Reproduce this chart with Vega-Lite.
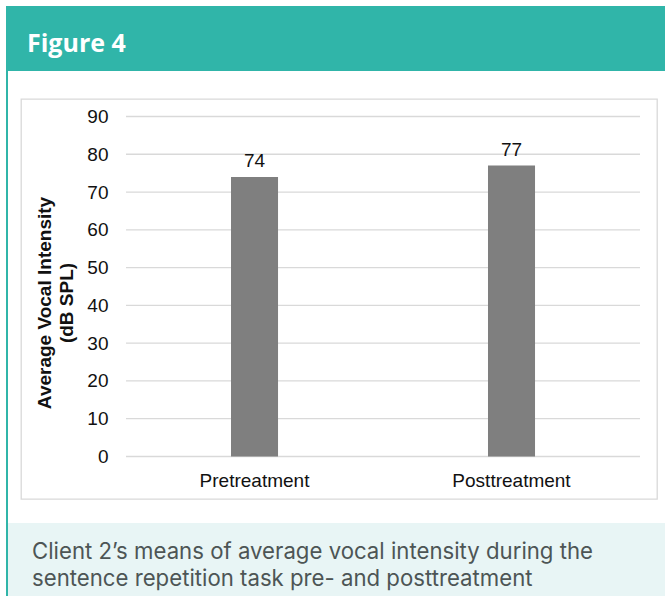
{
  "$schema": "https://vega.github.io/schema/vega-lite/v6.json",
  "background": "white",
  "padding": {"left": 6, "top": 6, "right": 0, "bottom": 0},
  "spacing": 0,
  "config": {"view": {"stroke": null}},
  "vconcat": [
    {
      "width": 659,
      "height": 65,
      "data": {"values": []},
      "mark": "rect",
      "view": {"fill": "#30B5A9", "stroke": null},
      "title": {
        "text": "Figure 4",
        "orient": "top",
        "anchor": "start",
        "frame": "group",
        "offset": -51,
        "dx": 21,
        "font": "Open Sans",
        "fontSize": 25,
        "fontWeight": 700,
        "color": "#ffffff"
      }
    },
    {
      "spacing": 0,
      "hconcat": [
        {
          "width": 2,
          "height": 525,
          "data": {"values": []},
          "mark": "rect",
          "view": {"fill": "#30B5A9", "stroke": null}
        },
        {
          "spacing": 23,
          "vconcat": [
            {
              "width": 10,
              "height": 4,
              "data": {"values": []},
              "mark": "rect",
              "view": {"stroke": null}
            },
            {
              "spacing": 0,
              "hconcat": [
                {
                  "width": 12,
                  "height": 400,
                  "data": {"values": []},
                  "mark": "rect",
                  "view": {"stroke": null}
                },
                {
                  "width": 636,
                  "height": 400,
                  "view": {"stroke": "#d9d9d9", "strokeWidth": 1.3, "fill": "#ffffff"},
                  "layer": [
                    {
                      "data": {"values": [
                        {"tick": 0}, {"tick": 10}, {"tick": 20}, {"tick": 30}, {"tick": 40},
                        {"tick": 50}, {"tick": 60}, {"tick": 70}, {"tick": 80}, {"tick": 90}
                      ]},
                      "mark": {"type": "rule", "color": "#d9d9d9", "strokeWidth": 1.3},
                      "encoding": {
                        "y": {"field": "tick", "type": "quantitative"},
                        "x": {"datum": "Pretreatment", "type": "nominal", "bandPosition": 0},
                        "x2": {"datum": "Posttreatment", "bandPosition": 1}
                      }
                    },
                    {
                      "data": {"values": [
                        {"phase": "Pretreatment", "intensity": 74},
                        {"phase": "Posttreatment", "intensity": 77}
                      ]},
                      "layer": [
                        {
                          "mark": {"type": "bar", "color": "#7f7f7f", "width": {"band": 0.183}},
                          "encoding": {
                            "x": {
                              "field": "phase",
                              "type": "nominal",
                              "sort": null,
                              "title": null,
                              "scale": {
                                "domain": ["Pretreatment", "Posttreatment"],
                                "paddingInner": 0,
                                "paddingOuter": 0.2374,
                                "align": 0.8607
                              },
                              "axis": {
                                "orient": "bottom",
                                "offset": -42.5,
                                "domain": false,
                                "ticks": false,
                                "tickSize": 0,
                                "bandPosition": 0.5,
                                "labelPadding": 30,
                                "labelAngle": 0,
                                "labelAlign": "center",
                                "labelBaseline": "alphabetic",
                                "labelFont": "Liberation Sans",
                                "labelFontSize": 19,
                                "labelColor": "#111111"
                              }
                            },
                            "y": {
                              "field": "intensity",
                              "type": "quantitative",
                              "scale": {"domain": [-11.25, 94.63], "nice": false, "zero": false},
                              "axis": {
                                "orient": "left",
                                "offset": -87,
                                "values": [0, 10, 20, 30, 40, 50, 60, 70, 80, 90],
                                "grid": false,
                                "domain": false,
                                "ticks": false,
                                "tickSize": 0,
                                "labelPadding": 0,
                                "labelFont": "Liberation Sans",
                                "labelFontSize": 19,
                                "labelColor": "#111111",
                                "title": ["Average Vocal Intensity", "(dB SPL)"],
                                "titleFont": "Liberation Sans",
                                "titleFontSize": 19,
                                "titleFontWeight": "bold",
                                "titleColor": "#111111",
                                "titleLineHeight": 22,
                                "titleBaseline": "middle",
                                "titleAlign": "center",
                                "titleAngle": -90,
                                "titleX": -64,
                                "titleY": 203.5
                              }
                            },
                            "y2": {"datum": 0}
                          }
                        },
                        {
                          "mark": {
                            "type": "text",
                            "baseline": "alphabetic",
                            "dy": -10,
                            "font": "Liberation Sans",
                            "fontSize": 19,
                            "color": "#111111"
                          },
                          "encoding": {
                            "x": {"field": "phase", "type": "nominal", "sort": null},
                            "y": {"field": "intensity", "type": "quantitative"},
                            "text": {"field": "intensity", "type": "quantitative"}
                          }
                        }
                      ]
                    }
                  ]
                }
              ]
            },
            {
              "width": 657,
              "height": 75,
              "data": {"values": []},
              "mark": "rect",
              "view": {"fill": "#E8F5F5", "stroke": null},
              "title": {
                "text": ["Client 2’s means of average vocal intensity during the", "sentence repetition task pre- and posttreatment"],
                "orient": "top",
                "anchor": "start",
                "frame": "group",
                "offset": -67.5,
                "dx": 24,
                "font": "Inter",
                "fontSize": 22.2,
                "fontWeight": "normal",
                "lineHeight": 27,
                "color": "#4D5555"
              }
            }
          ]
        }
      ]
    }
  ]
}
